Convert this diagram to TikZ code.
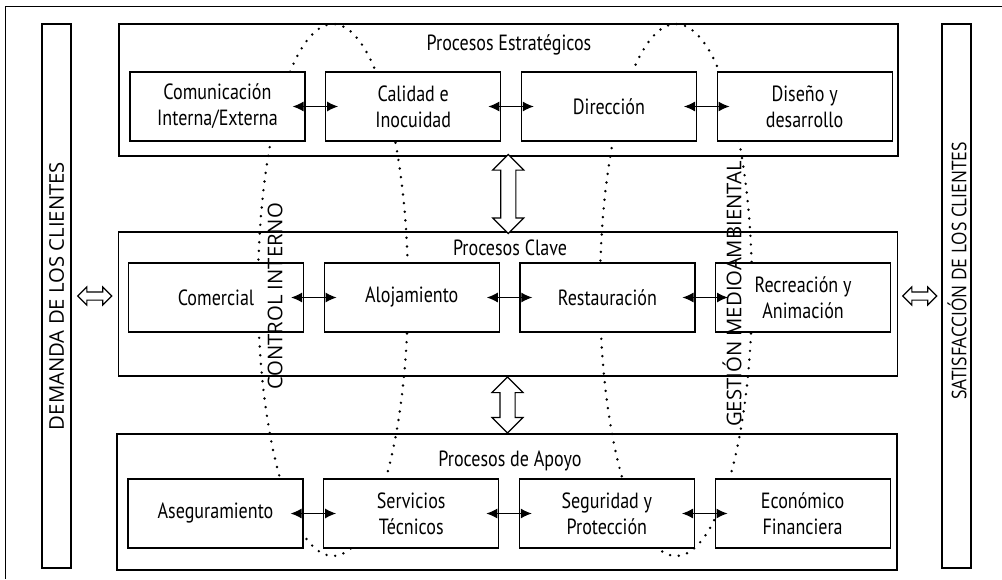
\documentclass[tikz,border=0pt]{standalone}
\usepackage{fontspec}
\setmainfont{PT Sans}
\newfontfamily\boxfont[FakeStretch=0.82]{PT Sans}
\newfontfamily\bigfont{Open Sans}
\usetikzlibrary{calc, positioning, shapes.arrows, arrows.meta}

\tikzset{
    link/.style={draw, line width=1.1pt, {Latex[length=11pt,width=10pt]}-{Latex[length=11pt,width=10pt]},
                 shorten <=-13pt, shorten >=-13pt},
    loop/.style={line width=2.7pt, line cap=round, dash pattern=on 0pt off 8.7pt}
}

\begin{document}
\begin{tikzpicture}[x=1pt, y=-1pt]

    \useasboundingbox (0,0) rectangle (1002,579); % same size as the figure, 1 unit = 1 px

    % outer frame, only the top and left edges are in view
    \draw [line width=1pt] (1002,6) -- (5,6) -- (5,579);

    % the three groups and the two customer columns
    \begin{scope}[every node/.style={draw, line width=1.2pt, inner sep=0pt},
                  grp/.style={minimum width=779pt, minimum height=132pt},
                  side/.style={minimum width=29pt, minimum height=544pt}]
    \node [grp] (est) at (508.5,90) {};
    \node [grp, minimum height=144pt] (cla) at (508,304) {};
    \node [grp, minimum width=780pt, minimum height=136pt] (apo) at (507,502) {};
    \node [side] (dem) at (56.5,296) {};
    \node [side] (sat) at (956.5,296) {};
    \end{scope}

    % group titles, placed on their baselines
    \begin{scope}[every node/.style={anchor=base, inner sep=0pt, font=\boxfont\fontsize{22}{26}\selectfont}]
    \node (estT) at (509,50)  {Procesos Estratégicos};
    \node (claT) at (510,255) {Procesos Clave};
    \node (apoT) at (510,466) {Procesos de Apoyo};
    \end{scope}

    % dotted loops (control interno / gestion medioambiental)
    \draw [loop] (333,290) ellipse [x radius=75, y radius=266];
    \draw [loop] (676,290) ellipse [x radius=76, y radius=266];

    % process boxes, white so that they hide the loops
    \begin{scope}[every node/.style={draw, fill=white, line width=1.2pt, minimum width=175pt, minimum height=69pt,
                                     align=center, inner sep=2pt, font=\boxfont\fontsize{22}{26}\selectfont},
                  node distance=19.5pt]
    \node (com) at (217.5,106.5) {Comunicación\\Interna/Externa};
    \node (cal) [right=of com] {Calidad e\\Inocuidad};
    \node (dir) [right=of cal] {Dirección};
    \node (dis) [right=of dir] {Diseño y\\desarrollo};

    \node (cme) at (216,297.5) {Comercial};
    \node (alo) [right=of cme] {Alojamiento};
    \node (res) [right=of alo] {Restauración};
    \node (rec) [right=of res] {Recreación y\\Animación};

    \node (ase) at (215.5,513.5) {Aseguramiento};
    \node (ser) [right=of ase] {Servicios\\Técnicos};
    \node (seg) [right=of ser] {Seguridad y\\Protección};
    \node (eco) [right=of seg] {Económico\\Financiera};
    \end{scope}

    % links inside each group
    \foreach \a/\b in {com/cal, cal/dir, dir/dis, cme/alo, alo/res, res/rec, ase/ser, ser/seg, seg/eco}
        \draw [link] (\a) -- (\b);

    % hollow arrows between the groups and to the customers
    \begin{scope}[every node/.style={draw, fill=white, double arrow, line width=1.1pt}]
    \node [rotate=90, inner sep=7pt, minimum width=30pt, double arrow head extend=8pt, minimum height=79pt]
          (estcla) at ($(est.south)!.5!(cla.north)$) {};
    \node [rotate=90, inner sep=7pt, minimum width=30pt, double arrow head extend=8pt, minimum height=56pt]
          (claapo) at ($(cla.south)!.5!(apo.north)$) {};
    \node [inner sep=3.5pt, minimum width=17pt, double arrow head extend=5pt, minimum height=34pt]
          (demcla) at ($(dem.east)!.5!(dem.east -| cla.west)$) {};
    \node [inner sep=3.5pt, minimum width=17pt, double arrow head extend=5pt, minimum height=34pt]
          (clasat) at ($(sat.west)!.5!(sat.west -| cla.east)$) {};
    \end{scope}

    % upright labels, written over everything
    \begin{scope}[every node/.style={rotate=90, inner sep=0pt, font=\bigfont\fontsize{20.3}{24}\selectfont}]
    \node (demL) at (dem.center) {DEMANDA DE LOS CLIENTES};
    \node (satL) at (957,271) {\scalebox{0.85}[1]{SATISFACCIÓN DE LOS CLIENTES}};
    \node (ctrl) at (275,296) {CONTROL INTERNO};
    \node (gma)  at (732,294) {GESTIÓN MEDIOAMBIENTAL};
    \end{scope}

\end{tikzpicture}
\end{document}
